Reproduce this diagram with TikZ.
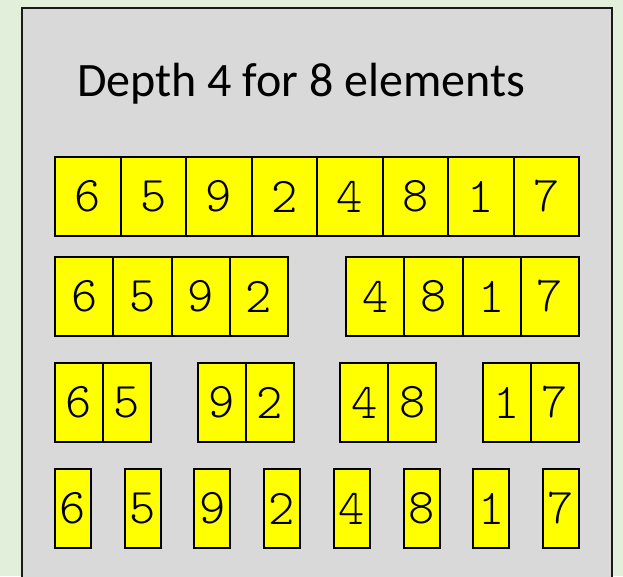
\documentclass[tikz,border=0pt]{standalone}
\usepackage{fontspec}
\setmainfont{Carlito}
\newfontfamily\digitfont{Latin Modern Mono Light}
\usetikzlibrary{positioning}
\definecolor{pagegreen}{HTML}{E2EFDA}
\definecolor{panelgray}{HTML}{D9D9D9}
\definecolor{cellyellow}{HTML}{FFFF00}
\definecolor{edgeblack}{HTML}{1A1A1A}

\begin{document}
\begin{tikzpicture}[
  x=1pt, y=-1pt,
  panel/.style={draw=edgeblack, fill=panelgray, line width=2.4pt},
  cell/.style={rectangle, draw=black, fill=cellyellow, line width=2pt, inner sep=0pt, outer sep=0pt, minimum height=79pt, font=\digitfont\fontsize{50}{58}\selectfont},
  wcell/.style={cell, minimum width=65.5pt},
  hcell/.style={cell, minimum width=58.25pt},
  qcell/.style={cell, minimum width=48pt},
  ecell/.style={cell, minimum width=36pt}
]
  \useasboundingbox (0,0) rectangle (623,576);
  \fill[pagegreen] (0,0) rectangle (623,576);
  \draw[panel] (22,8) rectangle (612,600);
  \node[anchor=base west, inner sep=0pt, font=\fontsize{48}{58}\selectfont] (title) at (77,96) {Depth 4 for 8 elements};

  % depth 1: the whole array
  \node[wcell, anchor=north west] (a1) at (55,157) {6};
  \node[wcell, right=0pt of a1] (a2) {5};
  \node[wcell, right=0pt of a2] (a3) {9};
  \node[wcell, right=0pt of a3] (a4) {2};
  \node[wcell, right=0pt of a4] (a5) {4};
  \node[wcell, right=0pt of a5] (a6) {8};
  \node[wcell, right=0pt of a6] (a7) {1};
  \node[wcell, right=0pt of a7] (a8) {7};

  % depth 2: two halves
  \node[hcell, below=21pt of a1.south west, anchor=north west] (b1) {6};
  \node[hcell, right=0pt of b1] (b2) {5};
  \node[hcell, right=0pt of b2] (b3) {9};
  \node[hcell, right=0pt of b3] (b4) {2};
  \node[hcell, right=58pt of b4] (b5) {4};
  \node[hcell, right=0pt of b5] (b6) {8};
  \node[hcell, right=0pt of b6] (b7) {1};
  \node[hcell, right=0pt of b7] (b8) {7};

  % depth 3: pairs
  \node[qcell, below=27pt of b1.south west, anchor=north west] (c1) {6};
  \node[qcell, right=0pt of c1] (c2) {5};
  \node[qcell, right=46.7pt of c2] (c3) {9};
  \node[qcell, right=0pt of c3] (c4) {2};
  \node[qcell, right=46.7pt of c4] (c5) {4};
  \node[qcell, right=0pt of c5] (c6) {8};
  \node[qcell, right=46.7pt of c6] (c7) {1};
  \node[qcell, right=0pt of c7] (c8) {7};

  % depth 4: single elements
  \node[ecell, below=27pt of c1.south west, anchor=north west] (d1) {6};
  \node[ecell, right=33.7pt of d1] (d2) {5};
  \node[ecell, right=33.7pt of d2] (d3) {9};
  \node[ecell, right=33.7pt of d3] (d4) {2};
  \node[ecell, right=33.7pt of d4] (d5) {4};
  \node[ecell, right=33.7pt of d5] (d6) {8};
  \node[ecell, right=33.7pt of d6] (d7) {1};
  \node[ecell, right=33.7pt of d7] (d8) {7};
\end{tikzpicture}
\end{document}
